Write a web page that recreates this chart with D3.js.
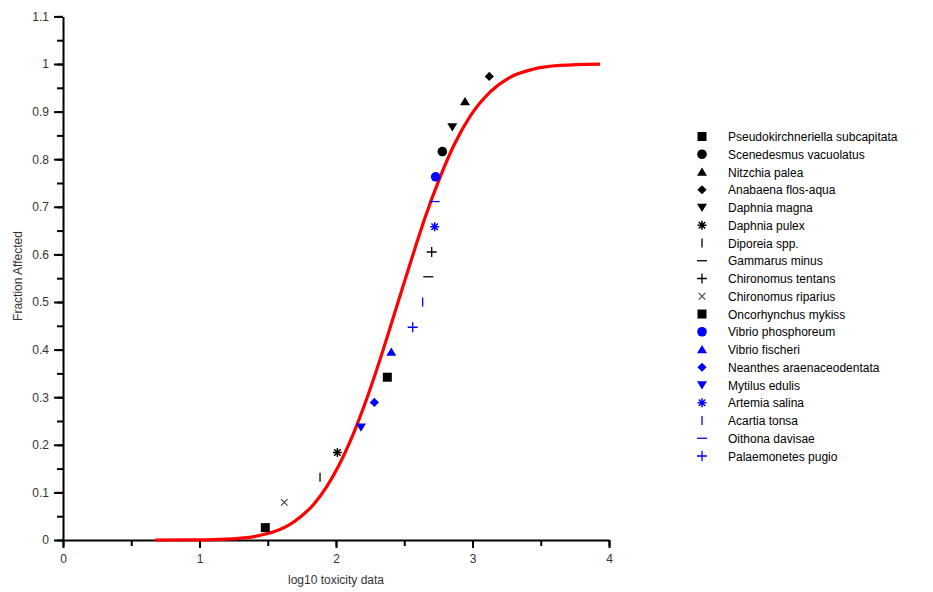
<!DOCTYPE html>
<html>
<head>
<meta charset="utf-8">
<script src="https://cdn.jsdelivr.net/npm/d3@7"></script>
<style>
  body { margin: 0; background: #fff; }
  svg { display: block; }
  text { font-family: "Liberation Sans", Arial, sans-serif; }
</style>
</head>
<body>
<svg id="chart" width="933" height="592"></svg>
<script>
// ---- data ----
const species = [
  "Pseudokirchneriella subcapitata", "Scenedesmus vacuolatus", "Nitzchia palea",
  "Anabaena flos-aqua", "Daphnia magna", "Daphnia pulex", "Diporeia spp.",
  "Gammarus minus", "Chironomus tentans", "Chironomus riparius",
  "Oncorhynchus mykiss", "Vibrio phosphoreum", "Vibrio fischeri",
  "Neanthes araenaceodentata", "Mytilus edulis", "Artemia salina",
  "Acartia tonsa", "Oithona davisae", "Palaemonetes pugio"
];
const logTox = [1.482, 2.779, 2.945, 3.123, 2.852, 2.010, 1.883, 2.676, 2.701, 1.621,
                2.376, 2.730, 2.405, 2.281, 2.183, 2.723, 2.635, 2.723, 2.562];
const fraction = [0.026, 0.816, 0.921, 0.974, 0.868, 0.184, 0.132, 0.553, 0.605, 0.079,
                  0.342, 0.763, 0.395, 0.289, 0.237, 0.658, 0.500, 0.711, 0.447];
const symbols = ["square", "circle", "triUp", "diamond", "triDown", "asterisk", "bar",
                 "dash", "plus", "cross", "square", "circle", "triUp", "diamond",
                 "triDown", "asterisk", "bar", "dash", "plus"];
const colors = ["black", "black", "black", "black", "black", "black", "black", "black",
                "black", "grey", "black", "blue", "blue", "blue", "blue", "blue", "blue",
                "blue", "blue"];
// fitted curve
const curveX = [0.674, 0.9, 1.1, 1.273, 1.4, 1.492, 1.58, 1.663, 1.75, 1.834, 1.932, 2.005,
                2.127, 2.249, 2.347, 2.432, 2.505, 2.579, 2.652, 2.762, 2.872, 2.982,
                3.128, 3.275, 3.443, 3.641, 3.934];
const curveY = [0.0000, 0.0001, 0.0008, 0.003, 0.007, 0.013, 0.021, 0.033, 0.051, 0.074,
                0.112, 0.148, 0.223, 0.316, 0.401, 0.479, 0.546, 0.613, 0.677, 0.762,
                0.834, 0.890, 0.941, 0.972, 0.989, 0.997, 0.9997];
const xTicks = [0, 1, 2, 3, 4];
const yTicks = [0, 0.1, 0.2, 0.3, 0.4, 0.5, 0.6, 0.7, 0.8, 0.9, 1, 1.1];
const xLabel = "log10 toxicity data";
const yLabel = "Fraction Affected";

// ---- layout ----
const svg = d3.select("#chart");
const x = d3.scaleLinear().domain([0, 4]).range([63, 609]);
const y = d3.scaleLinear().domain([0, 1.1]).range([540, 16.4]);
const colorMap = { black: "#000000", grey: "#404040", blue: "#0000ff" };

// axes
const minorX = d3.range(0, 4.01, 0.5);
const minorY = d3.range(0, 1.101, 0.05);

const gx = svg.append("g").attr("transform", "translate(0,540)");
gx.call(d3.axisBottom(x).tickValues(minorX).tickSize(6).tickSizeOuter(0).tickFormat(""));
gx.call(g => g.selectAll("path.domain").remove());
const gx2 = svg.append("g").attr("transform", "translate(0,540)");
gx2.call(d3.axisBottom(x).tickValues(xTicks).tickSize(8).tickSizeOuter(0).tickPadding(6)
  .tickFormat(d3.format("d")));

const gy = svg.append("g").attr("transform", "translate(63,0)");
gy.call(d3.axisLeft(y).tickValues(minorY).tickSize(6).tickSizeOuter(0).tickFormat(""));
gy.call(g => g.selectAll("path.domain").remove());
const gy2 = svg.append("g").attr("transform", "translate(63,0)");
gy2.call(d3.axisLeft(y).tickValues(yTicks).tickSize(9).tickSizeOuter(0).tickPadding(5)
  .tickFormat(d => d3.format("")(+d.toFixed(1))));

svg.selectAll(".tick line").attr("stroke", "#000").attr("stroke-width", 2);
svg.selectAll("path.domain").attr("stroke", "#000").attr("stroke-width", 2);
svg.selectAll(".tick text").attr("fill", "#333").style("font-size", "12px")
  .style("font-family", "'Liberation Sans', Arial, sans-serif");

// axis titles
svg.append("text").attr("x", x(2)).attr("y", 584).attr("text-anchor", "middle")
  .style("font-size", "12px").attr("fill", "#333").text(xLabel);
svg.append("text").attr("transform", "translate(22,276) rotate(-90)")
  .attr("text-anchor", "middle").style("font-size", "12px").attr("fill", "#333").text(yLabel);

// curve
const curvePts = curveX.map((v, i) => [v, curveY[i]]);
svg.append("path").datum(curvePts)
  .attr("d", d3.line().x(d => x(d[0])).y(d => y(d[1])).curve(d3.curveMonotoneX))
  .attr("fill", "none").attr("stroke", "#ff0000").attr("stroke-width", 3.2);

// symbols
function drawSymbol(g, type, col) {
  const c = colorMap[col];
  const r = 4.6;
  switch (type) {
    case "square":
      g.append("rect").attr("x", -4.5).attr("y", -4.5).attr("width", 9).attr("height", 9).attr("fill", c); break;
    case "circle":
      g.append("circle").attr("r", 4.8).attr("fill", c); break;
    case "triUp":
      g.append("path").attr("d", `M0,${-r}L${r + 0.4},${r * 0.8}L${-r - 0.4},${r * 0.8}Z`).attr("fill", c); break;
    case "triDown":
      g.append("path").attr("d", `M0,${r}L${r + 0.4},${-r * 0.8}L${-r - 0.4},${-r * 0.8}Z`).attr("fill", c); break;
    case "diamond":
      g.append("path").attr("d", `M0,${-r}L${r},0L0,${r}L${-r},0Z`).attr("fill", c); break;
    case "asterisk": {
      const a = 4.5, b = a * 0.72;
      g.append("path").attr("d", `M${-a},0H${a}M0,${-a}V${a}M${-b},${-b}L${b},${b}M${-b},${b}L${b},${-b}`)
        .attr("stroke", c).attr("stroke-width", 1.5).attr("fill", "none"); break;
    }
    case "bar":
      g.append("path").attr("d", `M0,-4.5V4.5`).attr("stroke", c).attr("stroke-width", 1.3); break;
    case "dash":
      g.append("path").attr("d", `M-5,0H5`).attr("stroke", c).attr("stroke-width", 1.3); break;
    case "plus":
      g.append("path").attr("d", `M-5,0H5M0,-5V5`).attr("stroke", c).attr("stroke-width", 1.3); break;
    case "cross":
      g.append("path").attr("d", `M-3.3,-3.3L3.3,3.3M-3.3,3.3L3.3,-3.3`).attr("stroke", c).attr("stroke-width", 1.1); break;
  }
}

species.forEach((s, i) => {
  const g = svg.append("g").attr("transform", `translate(${x(logTox[i])},${y(fraction[i])})`);
  drawSymbol(g, symbols[i], colors[i]);
});

// legend
const legend = svg.append("g");
species.forEach((s, i) => {
  const yy = 136.5 + i * 17.75;
  const g = legend.append("g").attr("transform", `translate(702,${yy})`);
  drawSymbol(g, symbols[i], colors[i]);
  legend.append("text").attr("x", 728).attr("y", yy + 4.5).style("font-size", "12px")
    .attr("fill", "#000").text(s);
});
</script>
</body>
</html>
